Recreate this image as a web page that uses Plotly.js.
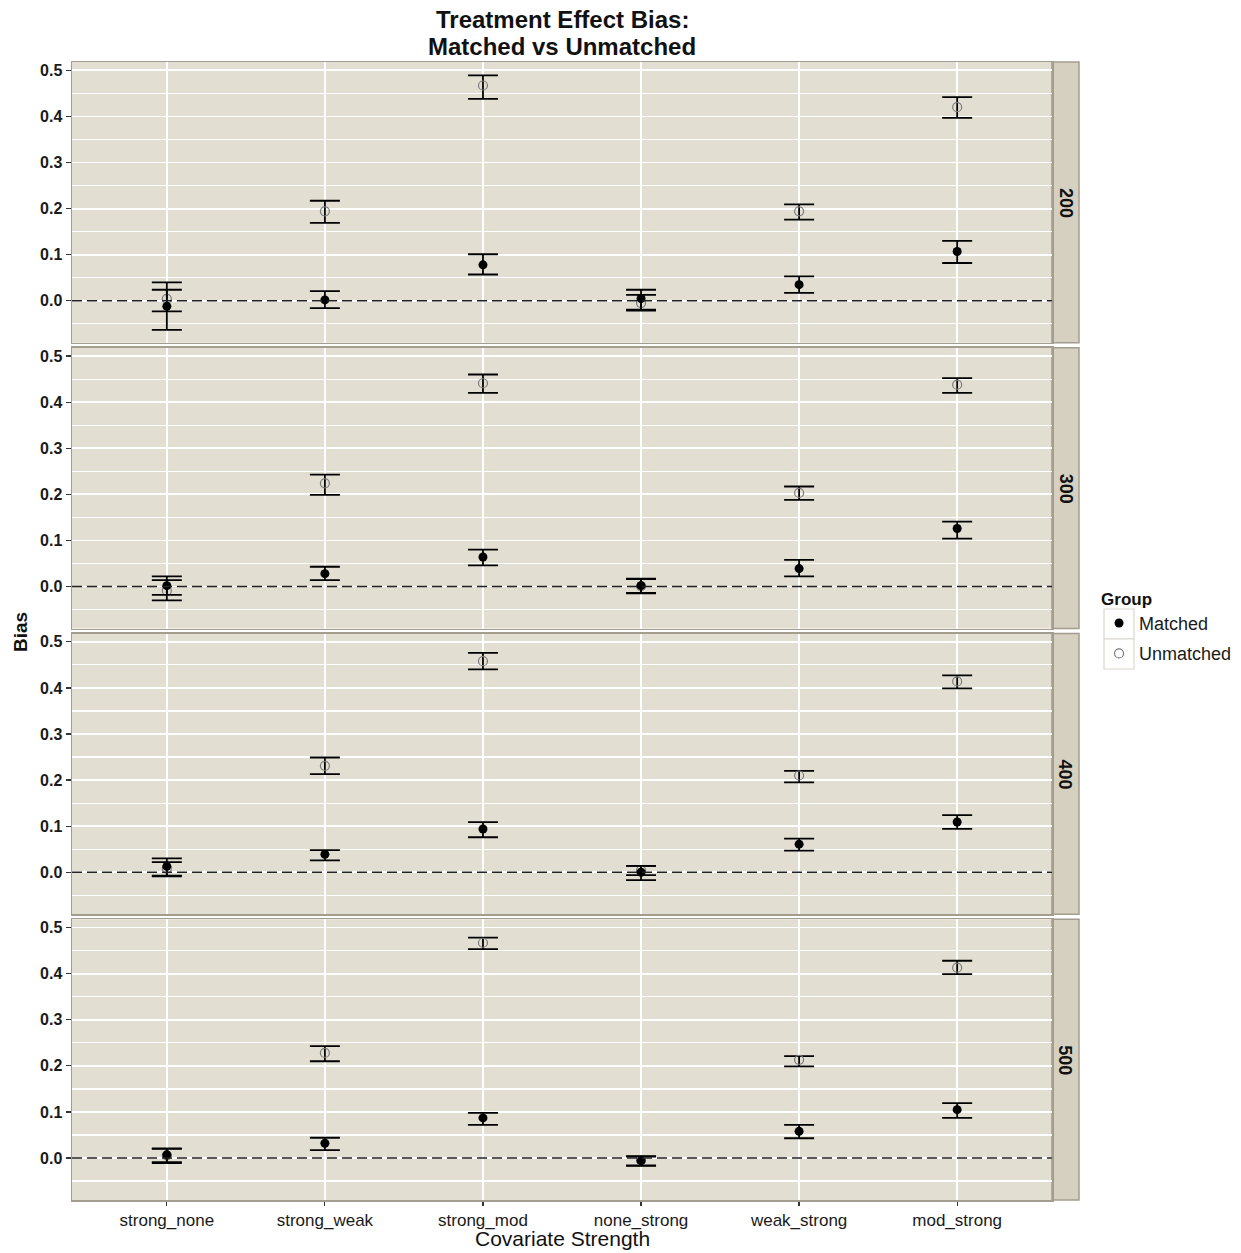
<!DOCTYPE html>
<html>
<head>
<meta charset="utf-8">
<script src="https://cdn.plot.ly/plotly-3.0.1.min.js"></script>
<style>
  html, body { margin: 0; padding: 0; background: #ffffff; }
  #chart { width: 1241px; height: 1253px; }
</style>
</head>
<body>
<div id="chart"></div>
<script>
// Covariate-strength scenarios on the x axis
const categories = ['strong_none', 'strong_weak', 'strong_mod', 'none_strong', 'weak_strong', 'mod_strong'];
// Sample sizes, one facet row each
const sampleSizes = ['200', '300', '400', '500'];

// Matched estimates: mean bias and interval bounds per sample size
const matchedMean200 = [-0.012, 0.002, 0.078, 0.005, 0.035, 0.107];
const matchedLow200  = [-0.063, -0.016, 0.057, -0.019, 0.017, 0.082];
const matchedHigh200 = [0.040, 0.021, 0.101, 0.024, 0.053, 0.130];

const matchedMean300 = [0.002, 0.028, 0.064, 0.002, 0.039, 0.126];
const matchedLow300  = [-0.018, 0.014, 0.046, -0.014, 0.022, 0.104];
const matchedHigh300 = [0.022, 0.043, 0.080, 0.017, 0.058, 0.141];

const matchedMean400 = [0.013, 0.039, 0.094, 0.000, 0.061, 0.109];
const matchedLow400  = [-0.007, 0.026, 0.076, -0.017, 0.047, 0.094];
const matchedHigh400 = [0.030, 0.048, 0.109, 0.014, 0.073, 0.124];

const matchedMean500 = [0.007, 0.032, 0.087, -0.006, 0.058, 0.105];
const matchedLow500  = [-0.009, 0.017, 0.072, -0.017, 0.043, 0.087];
const matchedHigh500 = [0.021, 0.044, 0.098, 0.004, 0.072, 0.119];

// Unmatched estimates
const unmatchedMean200 = [0.004, 0.194, 0.467, -0.005, 0.194, 0.420];
const unmatchedLow200  = [-0.023, 0.169, 0.438, -0.021, 0.176, 0.397];
const unmatchedHigh200 = [0.024, 0.217, 0.489, 0.013, 0.209, 0.442];

const unmatchedMean300 = [-0.009, 0.224, 0.441, 0.001, 0.203, 0.438];
const unmatchedLow300  = [-0.030, 0.199, 0.420, -0.015, 0.188, 0.420];
const unmatchedHigh300 = [0.014, 0.243, 0.460, 0.016, 0.217, 0.452];

const unmatchedMean400 = [0.008, 0.231, 0.458, 0.004, 0.210, 0.414];
const unmatchedLow400  = [-0.009, 0.213, 0.440, -0.006, 0.195, 0.399];
const unmatchedHigh400 = [0.022, 0.249, 0.476, 0.014, 0.220, 0.427];

const unmatchedMean500 = [0.006, 0.228, 0.467, -0.005, 0.213, 0.413];
const unmatchedLow500  = [-0.011, 0.210, 0.453, -0.016, 0.199, 0.399];
const unmatchedHigh500 = [0.020, 0.243, 0.478, 0.003, 0.221, 0.428];

const matchedRows = [
  [matchedMean200, matchedLow200, matchedHigh200],
  [matchedMean300, matchedLow300, matchedHigh300],
  [matchedMean400, matchedLow400, matchedHigh400],
  [matchedMean500, matchedLow500, matchedHigh500]
];
const unmatchedRows = [
  [unmatchedMean200, unmatchedLow200, unmatchedHigh200],
  [unmatchedMean300, unmatchedLow300, unmatchedHigh300],
  [unmatchedMean400, unmatchedLow400, unmatchedHigh400],
  [unmatchedMean500, unmatchedLow500, unmatchedHigh500]
];

const FONT = 'Liberation Sans, Arial, sans-serif';
const PANEL_BG = '#E2DFD2';
const STRIP_BG = '#D6D0C1';
const BORDER = '#A29D8E';

const nRows = sampleSizes.length;
const gap = 5 / 1138;
const panelH = (1 - gap * (nRows - 1)) / nRows;

function errorBars(mean, low, high) {
  return {
    type: 'data',
    symmetric: false,
    array: mean.map((m, i) => high[i] - m),
    arrayminus: mean.map((m, i) => m - low[i]),
    color: '#000000',
    thickness: 1.8,
    width: 15
  };
}

const traces = [];
const layout = {
  width: 1241,
  height: 1253,
  margin: { l: 72, r: 189, t: 62, b: 53, autoexpand: false },
  paper_bgcolor: '#ffffff',
  plot_bgcolor: PANEL_BG,
  font: { family: FONT, color: '#1a1a1a' },
  showlegend: true,
  legend: {
    x: 1.048, xanchor: 'left',
    y: 0.5424, yanchor: 'top',
    title: { text: 'Group', font: { family: FONT, size: 17, weight: 'bold', color: '#111' } },
    font: { family: FONT, size: 18, color: '#1a1a1a' },
    bgcolor: 'rgba(0,0,0,0)',
    traceorder: 'grouped',
    tracegroupgap: 4
  },
  shapes: [],
  annotations: []
};

sampleSizes.forEach((n, r) => {
  const k = r + 1;
  const xa = k === 1 ? 'x' : 'x' + k;
  const ya = k === 1 ? 'y' : 'y' + k;
  const top = 1 - r * (panelH + gap);
  const bottom = top - panelH;
  const isBottom = r === nRows - 1;

  const [uMean, uLow, uHigh] = unmatchedRows[r];
  const [mMean, mLow, mHigh] = matchedRows[r];

  traces.push({
    type: 'scatter', mode: 'markers',
    x: categories, y: uMean,
    xaxis: xa, yaxis: ya,
    name: 'Unmatched', legendgroup: 'Unmatched', legendrank: 2,
    showlegend: r === 0,
    marker: { symbol: 'circle-open', size: 9, color: '#7a7a7a', line: { width: 1.2, color: '#7a7a7a' } },
    error_y: errorBars(uMean, uLow, uHigh),
    hoverinfo: 'x+y+name'
  });
  traces.push({
    type: 'scatter', mode: 'markers',
    x: categories, y: mMean,
    xaxis: xa, yaxis: ya,
    name: 'Matched', legendgroup: 'Matched', legendrank: 1,
    showlegend: r === 0,
    marker: { symbol: 'circle', size: 9, color: '#000000' },
    error_y: errorBars(mMean, mLow, mHigh),
    hoverinfo: 'x+y+name'
  });

  layout[k === 1 ? 'xaxis' : 'xaxis' + k] = {
    domain: [0, 1],
    anchor: ya,
    type: 'category',
    categoryorder: 'array',
    categoryarray: categories,
    range: [-0.6, categories.length - 0.4],
    showgrid: true, gridcolor: '#ffffff', gridwidth: 1.8,
    zeroline: false,
    showline: true, mirror: true, linecolor: BORDER, linewidth: 1.5,
    ticks: isBottom ? 'outside' : '',
    ticklen: 4, tickwidth: 1.2, tickcolor: '#333333',
    showticklabels: isBottom,
    tickfont: { family: FONT, size: 17, color: '#1a1a1a' }
  };
  layout[k === 1 ? 'yaxis' : 'yaxis' + k] = {
    domain: [bottom, top],
    anchor: xa,
    range: [-0.091, 0.518],
    tickmode: 'linear', tick0: 0, dtick: 0.1,
    tickformat: '.1f',
    showgrid: true, gridcolor: '#ffffff', gridwidth: 1.8,
    minor: { dtick: 0.05, tick0: 0, showgrid: true, gridcolor: '#ffffff', gridwidth: 1.2, ticks: '' },
    zeroline: false,
    showline: true, mirror: true, linecolor: BORDER, linewidth: 1.5,
    ticks: 'outside', ticklen: 5, tickwidth: 1.2, tickcolor: '#333333',
    tickfont: { family: FONT, size: 16, weight: 'bold', color: '#1a1a1a' }
  };

  // dashed reference line at zero bias
  layout.shapes.push({
    type: 'line', xref: xa + ' domain', yref: ya,
    x0: 0, x1: 1, y0: 0, y1: 0,
    line: { color: '#222222', width: 1.6, dash: '10px,5px' },
    layer: 'above'
  });

  // facet strip on the right
  layout.shapes.push({
    type: 'rect', xref: 'paper', yref: 'paper',
    x0: 1, x1: 1 + 27 / 980, y0: bottom, y1: top,
    fillcolor: STRIP_BG, line: { color: BORDER, width: 1.5 },
    layer: 'below'
  });
  layout.annotations.push({
    xref: 'paper', yref: 'paper',
    x: 1 + 13.5 / 980, y: (top + bottom) / 2,
    text: '<b>' + n + '</b>', textangle: 90, showarrow: false,
    font: { family: FONT, size: 18, color: '#111' },
    xanchor: 'center', yanchor: 'middle'
  });
});

// legend key boxes
[[609, 639], [639, 669]].forEach(([y0px, y1px]) => {
  layout.shapes.push({
    type: 'rect', xref: 'paper', yref: 'paper',
    x0: (1104 - 72) / 980, x1: (1134 - 72) / 980,
    y0: (1200 - y1px) / 1138, y1: (1200 - y0px) / 1138,
    fillcolor: '#ffffff', line: { color: '#DCD8CC', width: 1.2 },
    layer: 'below'
  });
});

// title lines
layout.annotations.push({
  xref: 'paper', yref: 'paper', x: 0.5, y: (1200 - 19) / 1138,
  text: '<b>Treatment Effect Bias:</b>', showarrow: false,
  font: { family: FONT, size: 24, color: '#111' }, xanchor: 'center', yanchor: 'middle'
});
layout.annotations.push({
  xref: 'paper', yref: 'paper', x: 0.5, y: (1200 - 47) / 1138,
  text: '<b>Matched vs Unmatched</b>', showarrow: false,
  font: { family: FONT, size: 24, color: '#111' }, xanchor: 'center', yanchor: 'middle'
});
// axis titles
layout.annotations.push({
  xref: 'paper', yref: 'paper', x: 0.5, y: (1200 - 1238) / 1138,
  text: 'Covariate Strength', showarrow: false,
  font: { family: FONT, size: 21, color: '#111' }, xanchor: 'center', yanchor: 'middle'
});
layout.annotations.push({
  xref: 'paper', yref: 'paper', x: (20 - 72) / 980, y: (1200 - 632) / 1138,
  text: '<b>Bias</b>', textangle: -90, showarrow: false,
  font: { family: FONT, size: 19, color: '#111' }, xanchor: 'center', yanchor: 'middle'
});

Plotly.newPlot('chart', traces, layout, { displayModeBar: false, staticPlot: true });
</script>
</body>
</html>
